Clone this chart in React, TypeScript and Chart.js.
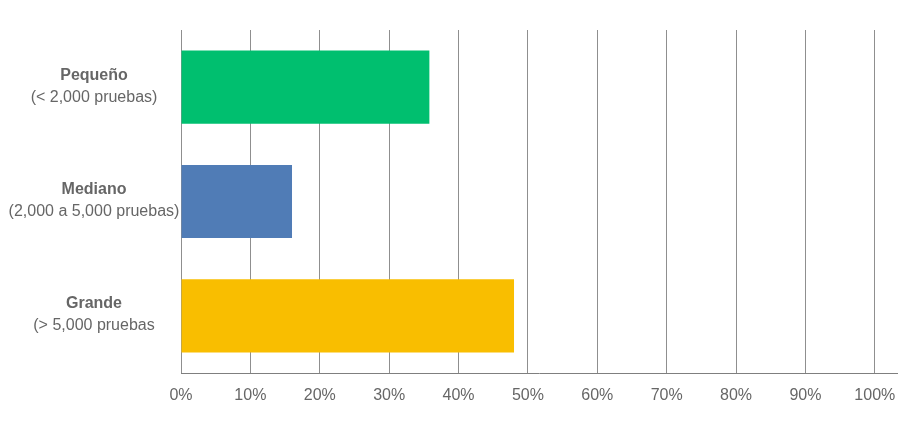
import React, { useEffect, useRef } from "react";
import { Chart, registerables } from "chart.js";

Chart.register(...registerables);

const categories = ["Pequeño", "Mediano", "Grande"];
const subLabels = ["(< 2,000 pruebas)", "(2,000 a 5,000 pruebas)", "(> 5,000 pruebas"];
const values = [35.8, 16, 48];
const barColors = ["#00BF6F", "#507CB6", "#F9BE00"];
const xTicks = [0, 10, 20, 30, 40, 50, 60, 70, 80, 90, 100];

const labelPlugin = {
  id: "twoLineLabels",
  afterDraw(chart: any) {
    const ctx = chart.ctx;
    const y = chart.scales.y;
    ctx.save();
    ctx.fillStyle = "#666666";
    ctx.textAlign = "center";
    ctx.textBaseline = "middle";
    categories.forEach((c, i) => {
      const cy = y.getPixelForValue(i);
      ctx.font = "bold 16px 'Liberation Sans', Arial, sans-serif";
      ctx.fillText(c, 94, cy - 12);
      ctx.font = "16px 'Liberation Sans', Arial, sans-serif";
      ctx.fillText(subLabels[i], 94, cy + 10);
    });
    ctx.restore();
  },
};

export default function App() {
  const ref = useRef<HTMLCanvasElement>(null);
  useEffect(() => {
    const chart = new Chart(ref.current!, {
      type: "bar",
      data: {
        labels: categories,
        datasets: [
          {
            data: values,
            backgroundColor: barColors,
            borderWidth: 0,
            categoryPercentage: 1,
            barPercentage: 0.64,
          },
        ],
      },
      options: {
        indexAxis: "y",
        animation: false,
        responsive: false,
        maintainAspectRatio: false,
        layout: { padding: { left: 181, right: 24, top: 30, bottom: 0 } },
        plugins: { legend: { display: false }, tooltip: { enabled: false } },
        scales: {
          x: {
            min: 0,
            max: 103.2,
            afterBuildTicks: (s: any) => {
              s.ticks = xTicks.map((v) => ({ value: v }));
            },
            afterFit: (s: any) => {
              s.height = 59;
            },
            grid: { color: "#8f8f8f", lineWidth: 1, drawTicks: false },
            border: { display: true, color: "#7f7f7f", width: 1 },
            ticks: {
              padding: 13,
              color: "#666666",
              font: { family: "'Liberation Sans', Arial, sans-serif", size: 16 },
              callback: (v: any) => v + "%",
            },
          },
          y: {
            display: false,
            grid: { display: false },
          },
        },
      },
      plugins: [labelPlugin],
    });
    return () => chart.destroy();
  }, []);
  return (
    <div style={{ position: "fixed", left: 0, top: 0, width: 921, height: 432, background: "#fff" }}>
      <canvas ref={ref} width={921} height={432} style={{ width: 921, height: 432 }} />
    </div>
  );
}
